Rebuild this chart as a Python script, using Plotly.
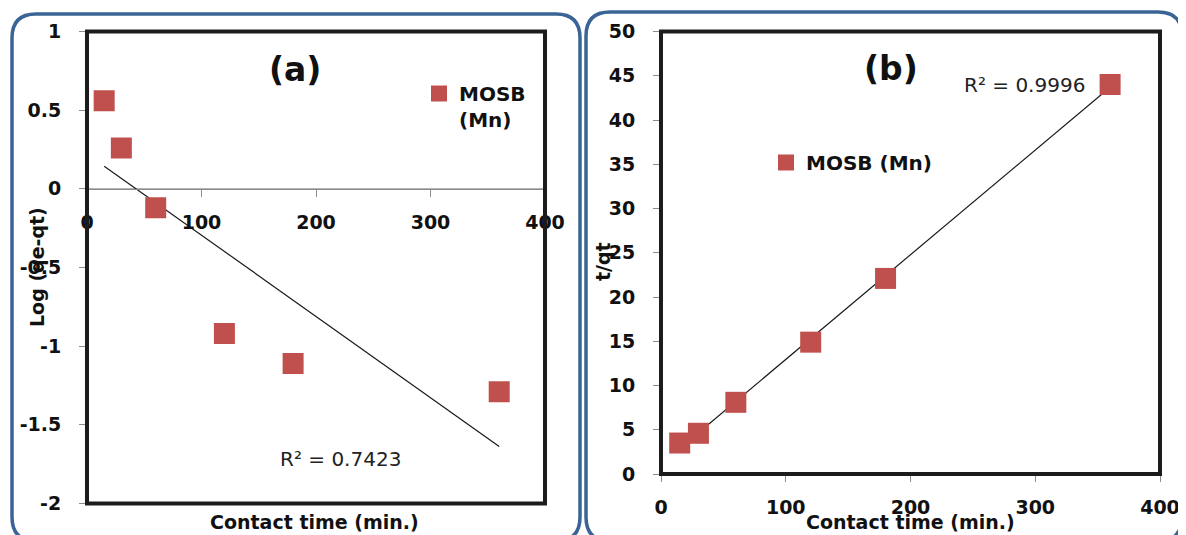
import numpy as np
import plotly.graph_objects as go

# ---------------- data ----------------
time_a = [15, 30, 60, 120, 180, 360]
log_qe_qt = [0.56, 0.26, -0.12, -0.92, -1.11, -1.29]

time_b = [15, 30, 60, 120, 180, 360]
t_over_qt = [3.5, 4.6, 8.1, 14.9, 22.1, 44.0]

series_name_a = "MOSB<br>(Mn)"
series_name_b = "MOSB (Mn)"

ya_ticks = [-2, -1.5, -1, -0.5, 0, 0.5, 1]
ya_ticktext = ["-2", "-1.5", "-1", "-0.5", "0", "0.5", "1"]
x_ticks = [0, 100, 200, 300, 400]
yb_ticks = [0, 5, 10, 15, 20, 25, 30, 35, 40, 45, 50]

r2_a_text = "R\u00b2 = 0.7423"
r2_b_text = "R\u00b2 = 0.9996"

# -------------- layout constants --------------
W, H = 1186, 535
OFF = 8  # page body margin offset
FONT = "'DejaVu Sans', Verdana, sans-serif"
RED = "#C0504D"
BOX = "#3B6496"


def px_x(p):
    return (p - OFF) / W


def px_y(p):
    return 1 - (p - OFF) / H


dom_ax = [px_x(87), px_x(545)]
dom_ay = [px_y(503.5), px_y(31.5)]
dom_bx = [px_x(661), px_x(1160)]
dom_by = [px_y(474), px_y(31.5)]

# linear fits (trendlines)
ka, ba = np.polyfit(time_a, log_qe_qt, 1)
kb, bb = np.polyfit(time_b, t_over_qt, 1)
fit_xa = [min(time_a), max(time_a)]
fit_xb = [min(time_b), max(time_b)]

fig = go.Figure()

fig.add_trace(go.Scatter(
    x=fit_xa, y=[ka * v + ba for v in fit_xa], mode="lines",
    line=dict(color="#1a1a1a", width=1.2), showlegend=False,
    xaxis="x", yaxis="y", hoverinfo="skip"))
fig.add_trace(go.Scatter(
    x=time_a, y=log_qe_qt, mode="markers", name=series_name_a,
    marker=dict(symbol="square", size=21, color=RED, line=dict(width=0)),
    xaxis="x", yaxis="y", legend="legend"))

fig.add_trace(go.Scatter(
    x=fit_xb, y=[kb * v + bb for v in fit_xb], mode="lines",
    line=dict(color="#1a1a1a", width=1.2), showlegend=False,
    xaxis="x2", yaxis="y2", hoverinfo="skip"))
fig.add_trace(go.Scatter(
    x=time_b, y=t_over_qt, mode="markers", name=series_name_b,
    marker=dict(symbol="square", size=21, color=RED, line=dict(width=0)),
    xaxis="x2", yaxis="y2", legend="legend2"))

tickfont = dict(family=FONT, size=19, color="#111111", weight="bold")

# position of y=0 line in panel (a)
zero_frac = (0 - (-2)) / (1 - (-2))
zero_pos = dom_ay[0] + zero_frac * (dom_ay[1] - dom_ay[0])

common = dict(showgrid=False, zeroline=False, automargin=False,
              ticks="outside", ticklen=7, tickcolor="#8c8c8c",
              tickfont=tickfont)

legend_font = dict(family=FONT, size=20, color="#111111", weight="bold")

fig.update_layout(
    width=W, height=H,
    margin=dict(l=0, r=0, t=0, b=0, autoexpand=False),
    paper_bgcolor="white", plot_bgcolor="white",
    font=dict(family=FONT, color="#111111"),
    xaxis=dict(domain=dom_ax, range=[0, 400], tickvals=x_ticks,
               anchor="free", position=zero_pos,
               showline=True, linecolor="#8c8c8c", linewidth=1,
               ticklabelstandoff=9, **common),
    yaxis=dict(domain=dom_ay, range=[-2, 1], tickvals=ya_ticks,
               ticktext=ya_ticktext, anchor="x", showline=False,
               ticklabelstandoff=14, **common),
    xaxis2=dict(domain=dom_bx, range=[0, 400], tickvals=x_ticks,
                anchor="y2", showline=False, ticklabelstandoff=9, **common),
    yaxis2=dict(domain=dom_by, range=[0, 50], tickvals=yb_ticks,
                anchor="x2", showline=False, ticklabelstandoff=14, **common),
    legend=dict(x=px_x(419), y=px_y(74), xanchor="left", yanchor="top",
                bgcolor="rgba(0,0,0,0)", valign="top", itemsizing="trace",
                font=legend_font),
    legend2=dict(x=px_x(766), y=px_y(143), xanchor="left", yanchor="top",
                 bgcolor="rgba(0,0,0,0)", itemsizing="trace",
                 font=legend_font),
    showlegend=True,
)

# plot area frames
for xr, yr in (("x domain", "y domain"), ("x2 domain", "y2 domain")):
    fig.add_shape(type="rect", xref=xr, yref=yr, x0=0, x1=1, y0=0, y1=1,
                  line=dict(color="#1c1c1c", width=4), layer="above")

# y=0 line across panel (a)
fig.add_shape(type="line", xref="x domain", yref="y", x0=0, x1=1, y0=0, y1=0,
              line=dict(color="#8c8c8c", width=1), layer="below")


def rounded_box(x0, y0, x1, y1, r):
    X = px_x
    Y = px_y
    return (f"M {X(x0 + r)},{Y(y0)} L {X(x1 - r)},{Y(y0)} "
            f"Q {X(x1)},{Y(y0)} {X(x1)},{Y(y0 + r)} "
            f"L {X(x1)},{Y(y1 - r)} Q {X(x1)},{Y(y1)} {X(x1 - r)},{Y(y1)} "
            f"L {X(x0 + r)},{Y(y1)} Q {X(x0)},{Y(y1)} {X(x0)},{Y(y1 - r)} "
            f"L {X(x0)},{Y(y0 + r)} Q {X(x0)},{Y(y0)} {X(x0 + r)},{Y(y0)} Z")


fig.add_shape(type="path", xref="paper", yref="paper",
              path=rounded_box(12, 14, 580, 541, 24),
              line=dict(color=BOX, width=3.5), layer="below")
fig.add_shape(type="path", xref="paper", yref="paper",
              path=rounded_box(586, 12, 1182, 541, 24),
              line=dict(color=BOX, width=3.5), layer="below")

# panel labels
fig.add_annotation(x=182, y=0.76, xref="x", yref="y", text="(a)",
                   showarrow=False, font=dict(family=FONT, size=33,
                                              color="#111111", weight="bold"))
fig.add_annotation(x=184, y=45.8, xref="x2", yref="y2", text="(b)",
                   showarrow=False, font=dict(family=FONT, size=33,
                                              color="#111111", weight="bold"))

# R^2 labels
fig.add_annotation(x=221, y=-1.715, xref="x", yref="y", text=r2_a_text,
                   showarrow=False, font=dict(family=FONT, size=20, color="#222222"))
fig.add_annotation(x=291, y=43.9, xref="x2", yref="y2", text=r2_b_text,
                   showarrow=False, font=dict(family=FONT, size=20, color="#222222"))

# axis titles
title_font = dict(family=FONT, size=19, color="#111111", weight="bold")
for tx, ty, txt, ang in ((314, 522, "Contact time (min.)", 0),
                         (910, 522, "Contact time (min.)", 0),
                         (37, 267, "Log (qe-qt)", -90),
                         (603, 262, "t/qt", -90)):
    fig.add_annotation(x=px_x(tx), y=px_y(ty), xref="paper", yref="paper",
                       xanchor="center", yanchor="middle",
                       text=txt, textangle=ang, showarrow=False, font=title_font)

fig.write_html("out.html")
